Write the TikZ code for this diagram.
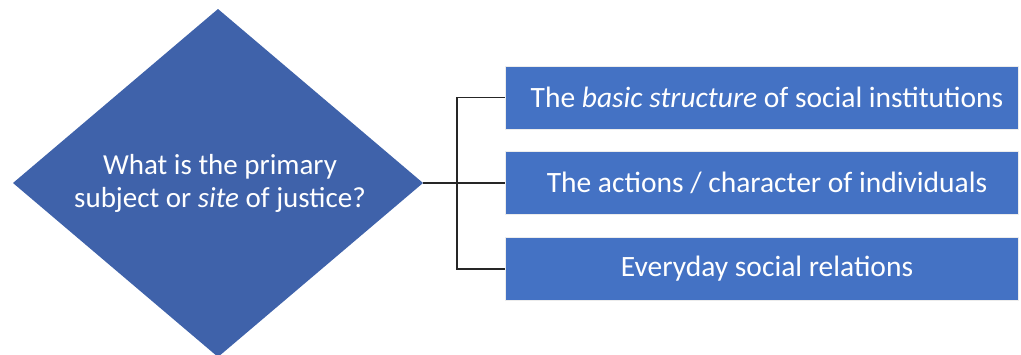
\documentclass[tikz,border=0pt]{standalone}
\usepackage{fontspec}
\setmainfont{Carlito}
\usetikzlibrary{shapes.geometric}
\definecolor{diamblue}{HTML}{3F62AA}
\definecolor{boxblue}{HTML}{4472C4}
\newcommand{\padl}{\hspace*{11pt}}
\begin{document}
\begin{tikzpicture}[x=1pt,y=-1pt,
  boxstyle/.style={draw=white!85!gray, line width=0.8pt, fill=boxblue, minimum width=513pt, minimum height=63pt, inner sep=0pt, text=white, font=\fontsize{29.5}{34}\selectfont},
  link/.style={draw=black!85, line width=1.4pt}]
\useasboundingbox (0,0) rectangle (1021,354);
\fill[diamblue] (13,183) -- (218,9) -- (423,183) -- (218,357) -- cycle;
\coordinate (dR) at (423,183);
\node[text=white, align=center, font=\fontsize{29}{33}\selectfont] (q) at (220,183) {What is the primary\\subject or \textit{site} of justice?};
\node[boxstyle] (b1) at (761.5,97.5) {\padl The \textit{basic structure} of social institutions};
\node[boxstyle] (b2) at (761.5,183) {\padl The actions / character of individuals};
\node[boxstyle] (b3) at (761.5,269) {\padl Everyday social relations};
\coordinate (j) at (457,183);
\draw[link] (dR) -- (j);
\draw[link] (b1.west) -| (j) |- (b3.west);
\draw[link] (j) -- (b2.west);
\end{tikzpicture}
\end{document}
